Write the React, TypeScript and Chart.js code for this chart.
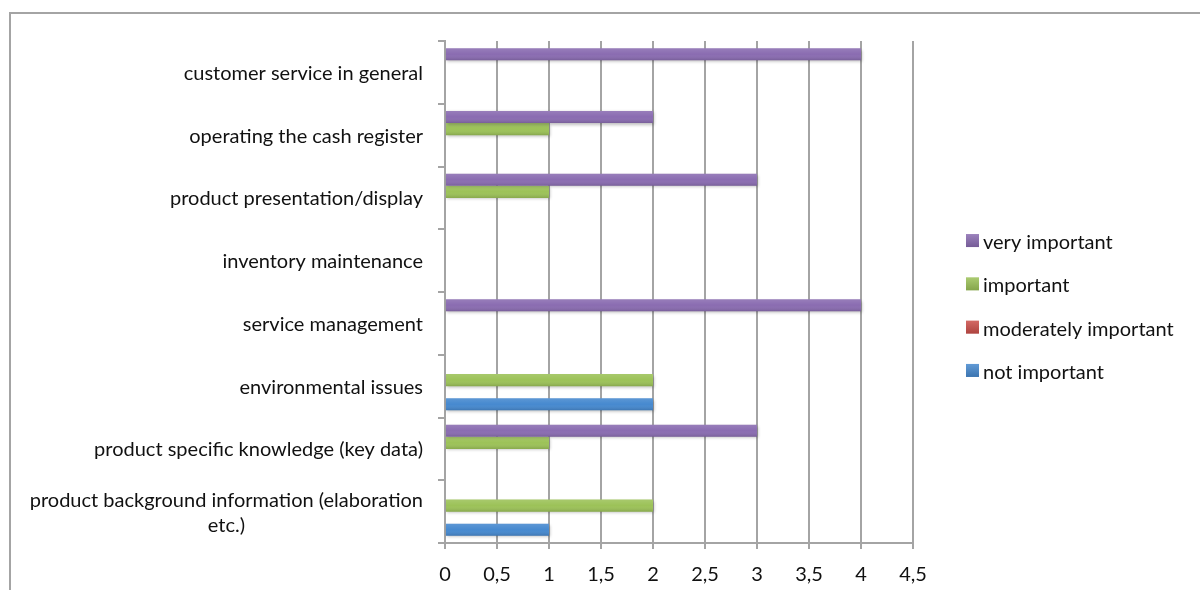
import React, { useEffect, useRef } from 'react';
import { Chart, registerables } from 'chart.js';

Chart.register(...registerables);

// Survey topics, listed top to bottom
const categories: (string | string[])[] = [
  'customer service in general',
  'operating the cash register',
  'product presentation/display',
  'inventory maintenance',
  'service management',
  'environmental issues',
  'product specific knowledge (key data)',
  ['product background information (elaboration', 'etc.)'],
];

const seriesNames = ['very important', 'important', 'moderately important', 'not important'];

// Number of answers per rating
const veryImportant = [4, 2, 3, 0, 4, 0, 3, 0];
const important = [0, 1, 1, 0, 0, 2, 1, 2];
const moderatelyImportant = [0, 0, 0, 0, 0, 0, 0, 0];
const notImportant = [0, 0, 0, 0, 0, 2, 0, 1];

const seriesColors = ['#8a6cb1', '#9cc258', '#cc4f4a', '#4689cf'];

const axisMin = 0;
const axisMax = 4.5;
const axisStep = 0.5;

const FONT_FAMILY = 'Lato, "Noto Sans", sans-serif';
const FONT_SIZE = 20;
const TEXT_COLOR = '#111111';
const LINE_COLOR = '#a4a4a4';

// Outer frame of the chart object
const framePlugin = {
  id: 'frame',
  beforeDraw(chart: any) {
    const { ctx, width, height } = chart;
    ctx.save();
    ctx.strokeStyle = LINE_COLOR;
    ctx.lineWidth = 2;
    ctx.beginPath();
    ctx.moveTo(10, height);
    ctx.lineTo(10, 13);
    ctx.lineTo(width, 13);
    ctx.stroke();
    ctx.restore();
  },
};

// Soft drop shadow plus a light-to-dark vertical sheen on every bar
const barShadePlugin = {
  id: 'barShade',
  beforeDatasetsDraw(chart: any) {
    const ctx = chart.ctx;
    ctx.save();
    ctx.shadowColor = 'rgba(0,0,0,0.25)';
    ctx.shadowBlur = 3;
    ctx.shadowOffsetX = 1;
    ctx.shadowOffsetY = 1.5;
  },
  afterDatasetsDraw(chart: any) {
    const ctx = chart.ctx;
    ctx.restore();
    ctx.save();
    chart.data.datasets.forEach((_: any, di: number) => {
      const meta = chart.getDatasetMeta(di);
      meta.data.forEach((el: any) => {
        const { x, y, base, height } = el.getProps(['x', 'y', 'base', 'height'], true);
        const w = Math.abs(x - base);
        if (w < 0.5) return;
        const top = y - height / 2;
        const g = ctx.createLinearGradient(0, top, 0, top + height);
        g.addColorStop(0, 'rgba(255,255,255,0.12)');
        g.addColorStop(0.5, 'rgba(255,255,255,0)');
        g.addColorStop(1, 'rgba(0,0,0,0.14)');
        ctx.fillStyle = g;
        ctx.fillRect(Math.min(x, base), top, w, height);
      });
    });
    ctx.restore();
  },
};

// Category names: right-aligned block next to the axis, wrapped lines centred on each other
const categoryLabelPlugin = {
  id: 'categoryLabels',
  afterDraw(chart: any) {
    const { ctx } = chart;
    const yScale = chart.scales.y;
    const right = yScale.right - 22;
    const lineH = 25;
    ctx.save();
    ctx.font = `${FONT_SIZE}px ${FONT_FAMILY}`;
    ctx.fillStyle = TEXT_COLOR;
    ctx.textAlign = 'center';
    ctx.textBaseline = 'middle';
    (chart.data.labels as (string | string[])[]).forEach((label, i) => {
      const lines = Array.isArray(label) ? label : [label];
      const maxW = Math.max(...lines.map((l) => ctx.measureText(l).width));
      const cx = right - maxW / 2;
      const yc = yScale.getPixelForValue(i) + 1;
      lines.forEach((line, j) => {
        ctx.fillText(line, cx, yc + (j - (lines.length - 1) / 2) * lineH);
      });
    });
    ctx.restore();
  },
};

// Series key to the right of the plot
const seriesKeyPlugin = {
  id: 'seriesKey',
  afterDraw(chart: any) {
    const { ctx, chartArea } = chart;
    const boxX = chartArea.right + 53;
    const box = 13;
    const rowGap = 43.3;
    const datasets = chart.data.datasets;
    const midY = (chartArea.top + chartArea.bottom) / 2 + 13.5;
    ctx.save();
    ctx.font = `${FONT_SIZE}px ${FONT_FAMILY}`;
    ctx.textAlign = 'left';
    ctx.textBaseline = 'middle';
    datasets.forEach((ds: any, i: number) => {
      const cy = midY + (i - (datasets.length - 1) / 2) * rowGap;
      const top = cy - box / 2;
      ctx.fillStyle = ds.backgroundColor;
      ctx.fillRect(boxX, top, box, box);
      const g = ctx.createLinearGradient(0, top, 0, top + box);
      g.addColorStop(0, 'rgba(255,255,255,0.15)');
      g.addColorStop(1, 'rgba(0,0,0,0.15)');
      ctx.fillStyle = g;
      ctx.fillRect(boxX, top, box, box);
      ctx.fillStyle = TEXT_COLOR;
      ctx.fillText(ds.label, boxX + box + 4, cy + 2);
    });
    ctx.restore();
  },
};

export default function App() {
  const canvasRef = useRef<HTMLCanvasElement | null>(null);

  useEffect(() => {
    const canvas = canvasRef.current;
    if (!canvas) return;
    const seriesValues = [veryImportant, important, moderatelyImportant, notImportant];

    const chart = new Chart(canvas, {
      type: 'bar',
      data: {
        labels: categories,
        datasets: seriesValues.map((values, i) => ({
          label: seriesNames[i],
          data: values,
          backgroundColor: seriesColors[i],
          borderWidth: 0,
          barPercentage: 1,
          categoryPercentage: 0.77,
        })),
      },
      options: {
        indexAxis: 'y',
        animation: false,
        responsive: false,
        layout: { padding: { top: 41, right: 287, bottom: 4, left: 0 } },
        scales: {
          x: {
            min: axisMin,
            max: axisMax,
            ticks: {
              stepSize: axisStep,
              padding: 14,
              color: TEXT_COLOR,
              font: { family: FONT_FAMILY, size: FONT_SIZE },
              callback: (v: any) => String(v).replace('.', ','),
            },
            grid: { color: LINE_COLOR, lineWidth: 2, tickLength: 6 },
            border: { color: LINE_COLOR, width: 2 },
            afterFit: (scale: any) => {
              scale.height = 43;
            },
          },
          y: {
            ticks: { display: false },
            grid: {
              drawOnChartArea: false,
              offset: true,
              tickLength: 7,
              color: LINE_COLOR,
              lineWidth: 2,
            },
            border: { color: LINE_COLOR, width: 2 },
            afterFit: (scale: any) => {
              scale.width = 445;
            },
          },
        },
        plugins: {
          legend: { display: false },
          tooltip: { enabled: false },
        },
      } as any,
      plugins: [framePlugin, barShadePlugin, categoryLabelPlugin, seriesKeyPlugin],
    });

    return () => chart.destroy();
  }, []);

  return (
    <div style={{ position: 'fixed', left: 0, top: 0, width: 1200, height: 590, background: '#ffffff' }}>
      <canvas ref={canvasRef} width={1200} height={590} style={{ display: 'block' }} />
    </div>
  );
}
